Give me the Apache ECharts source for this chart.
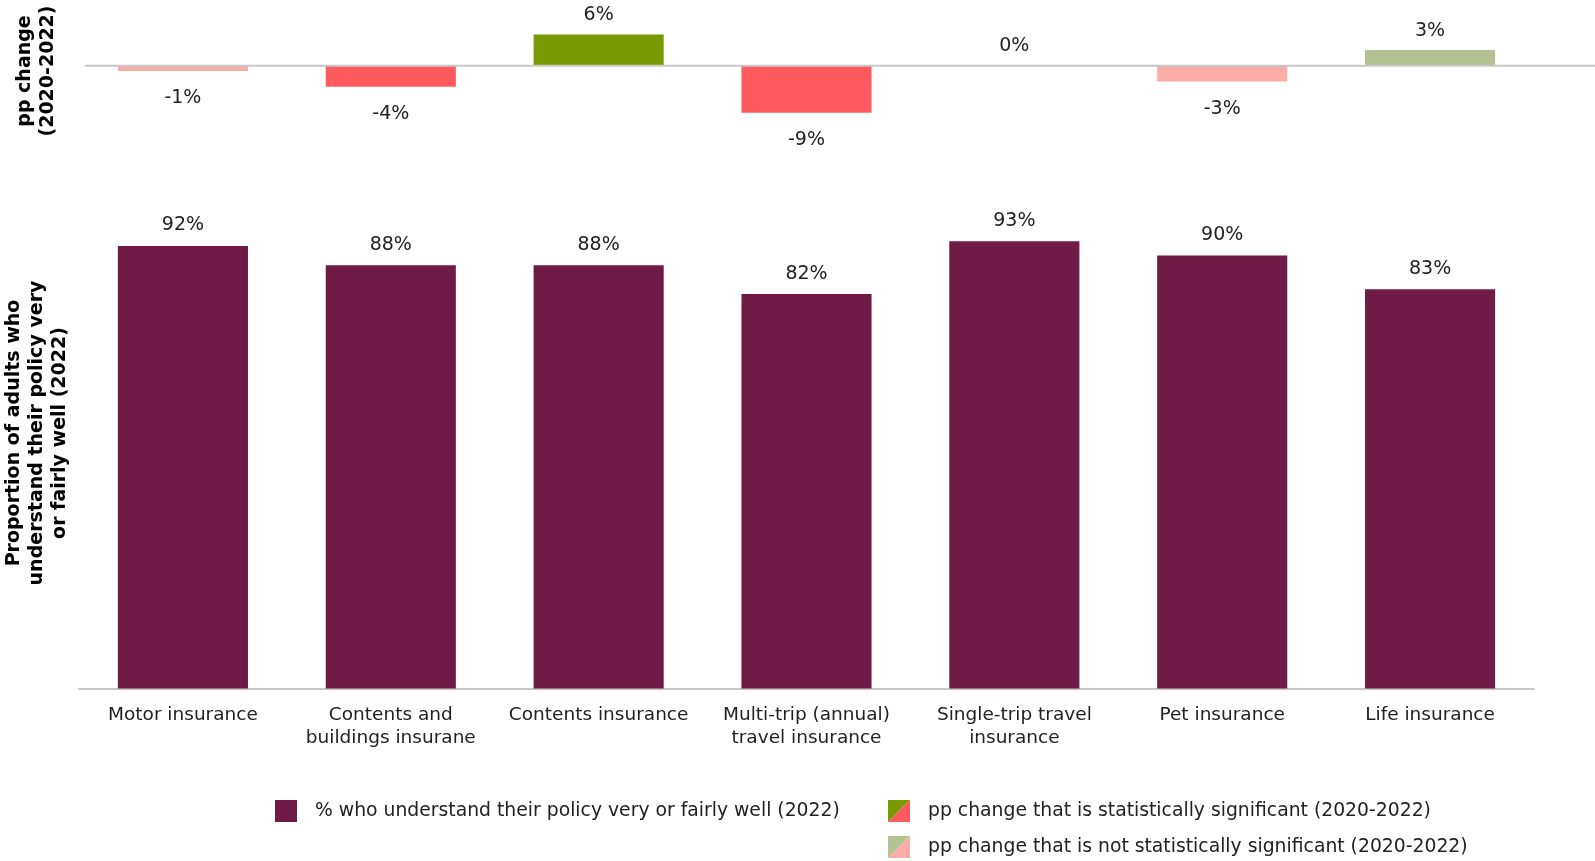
<!DOCTYPE html>
<html>
<head>
<meta charset="utf-8">
<style>
  html, body { margin: 0; padding: 0; background: #ffffff; }
  #chart { width: 1595px; height: 861px; }
</style>
<script src="https://cdn.jsdelivr.net/npm/echarts@6/dist/echarts.min.js"></script>
</head>
<body>
<div id="chart"></div>
<script>
// Insurance products shown along the x axis
const categories = [
  'Motor insurance',
  'Contents and\nbuildings insurane',
  'Contents insurance',
  'Multi-trip (annual)\ntravel insurance',
  'Single-trip travel\ninsurance',
  'Pet insurance',
  'Life insurance'
];

// % of adults who understand their policy very or fairly well (2022)
const understand2022 = [92, 88, 88, 82, 93, 90, 83];

// Percentage-point change 2020-2022
const ppChange = [-1, -4, 6, -9, 0, -3, 3];

// Whether each change is statistically significant
const significant = [false, true, true, true, false, false, false];

const seriesNames = [
  '% who understand their policy very or fairly well (2022)',
  'pp change that is statistically significant (2020-2022)',
  'pp change that is not statistically significant (2020-2022)'
];

const COLORS = {
  main: '#701B45',
  sigPos: '#7A9A01',
  sigNeg: '#FF5A5E',
  nsPos: '#B5C393',
  nsNeg: '#F9ADA6',
  axis: '#C8C8C8',
  text: '#222222'
};

const FONT = 'DejaVu Sans, Verdana, sans-serif';

function splitIcon(topLeft, bottomRight) {
  const svg = '<svg xmlns="http://www.w3.org/2000/svg" width="22" height="22">' +
    '<polygon points="0,0 22,0 0,22" fill="' + topLeft + '"/>' +
    '<polygon points="22,0 22,22 0,22" fill="' + bottomRight + '"/></svg>';
  return 'image://data:image/svg+xml;charset=utf-8,' + encodeURIComponent(svg);
}

function ppItem(v, sig) {
  const col = v >= 0
    ? (sig ? COLORS.sigPos : COLORS.nsPos)
    : (sig ? COLORS.sigNeg : COLORS.nsNeg);
  return {
    value: v,
    itemStyle: { color: col },
    label: {
      position: v >= 0 ? 'top' : 'bottom',
      distance: v >= 0 ? 10 : 18
    }
  };
}

const sigData = ppChange.map((v, i) => significant[i] ? ppItem(v, true) : null);
const nsData = ppChange.map((v, i) => significant[i] ? null : ppItem(v, false));

const chart = echarts.init(document.getElementById('chart'), null, { renderer: 'canvas' });

const gridLeft = 79;
const gridRight = 61;

const ppLabel = {
  show: true,
  formatter: p => p.value + '%',
  color: COLORS.text,
  fontFamily: FONT,
  fontSize: 19
};

const legendText = {
  color: COLORS.text, fontFamily: FONT, fontSize: 18.8, padding: [0, 0, 0, 13]
};

function legendAt(left, top, name, icon) {
  return {
    left: left, top: top, padding: 0, orient: 'horizontal',
    itemWidth: 22, itemHeight: 22,
    textStyle: legendText,
    data: [{ name: name, icon: icon }]
  };
}

const option = {
  backgroundColor: '#ffffff',
  animation: false,
  textStyle: { fontFamily: FONT },
  grid: [
    { left: gridLeft, right: gridRight, top: 24, height: 94, outerBoundsMode: 'none', containLabel: false },
    { left: gridLeft, right: gridRight, top: 207.5, bottom: 172.5, outerBoundsMode: 'none', containLabel: false }
  ],
  xAxis: [
    {
      type: 'category', gridIndex: 0, data: categories,
      axisLine: { show: false }, axisTick: { show: false }, axisLabel: { show: false }
    },
    {
      type: 'category', gridIndex: 1, data: categories,
      axisLine: { show: true, lineStyle: { color: COLORS.axis, width: 2 } },
      axisTick: { show: false },
      axisLabel: {
        color: COLORS.text, fontFamily: FONT, fontSize: 18.5,
        lineHeight: 23, margin: 15, interval: 0
      }
    }
  ],
  yAxis: [
    {
      type: 'value', gridIndex: 0, min: -10, max: 8,
      axisLine: { show: false }, axisTick: { show: false },
      axisLabel: { show: false }, splitLine: { show: false },
      name: 'pp change\n(2020-2022)',
      nameLocation: 'middle', nameRotate: 90, nameGap: 19,
      nameTextStyle: {
        color: '#000', fontFamily: FONT, fontSize: 19, fontWeight: 'bold', lineHeight: 23
      }
    },
    {
      type: 'value', gridIndex: 1, min: 0, max: 100,
      axisLine: { show: false }, axisTick: { show: false },
      axisLabel: { show: false }, splitLine: { show: false },
      name: 'Proportion of adults who\nunderstand their policy very\nor fairly well (2022)',
      nameLocation: 'middle', nameRotate: 90, nameGap: 7,
      nameTextStyle: {
        color: '#000', fontFamily: FONT, fontSize: 19, fontWeight: 'bold', lineHeight: 23,
        padding: [0, 0, 0, 30]
      }
    }
  ],
  legend: [
    legendAt(275, 800, seriesNames[0], 'rect'),
    legendAt(888, 800, seriesNames[1], splitIcon(COLORS.sigPos, COLORS.sigNeg)),
    legendAt(888, 836, seriesNames[2], splitIcon(COLORS.nsPos, COLORS.nsNeg))
  ],
  series: [
    {
      name: seriesNames[0], type: 'bar', xAxisIndex: 1, yAxisIndex: 1,
      data: understand2022, barWidth: '62.6%',
      itemStyle: { color: COLORS.main },
      label: {
        show: true, position: 'top', distance: 11,
        formatter: p => p.value + '%',
        color: COLORS.text, fontFamily: FONT, fontSize: 19
      }
    },
    {
      name: seriesNames[1], type: 'bar', xAxisIndex: 0, yAxisIndex: 0,
      stack: 'pp', data: sigData, barWidth: '62.6%',
      itemStyle: { color: COLORS.sigNeg },
      label: ppLabel
    },
    {
      name: seriesNames[2], type: 'bar', xAxisIndex: 0, yAxisIndex: 0,
      stack: 'pp', data: nsData, barWidth: '62.6%',
      itemStyle: { color: COLORS.nsNeg },
      label: ppLabel
    }
  ]
};

chart.setOption(option);

// Zero line of the pp change panel, placed through the panel's value scale
const zeroY = chart.convertToPixel({ yAxisIndex: 0 }, 0);
chart.setOption({
  graphic: [{
    type: 'line', z: 5,
    shape: { x1: 85, y1: zeroY, x2: 1595, y2: zeroY },
    style: { stroke: COLORS.axis, lineWidth: 2 }
  }]
});
</script>
</body>
</html>
